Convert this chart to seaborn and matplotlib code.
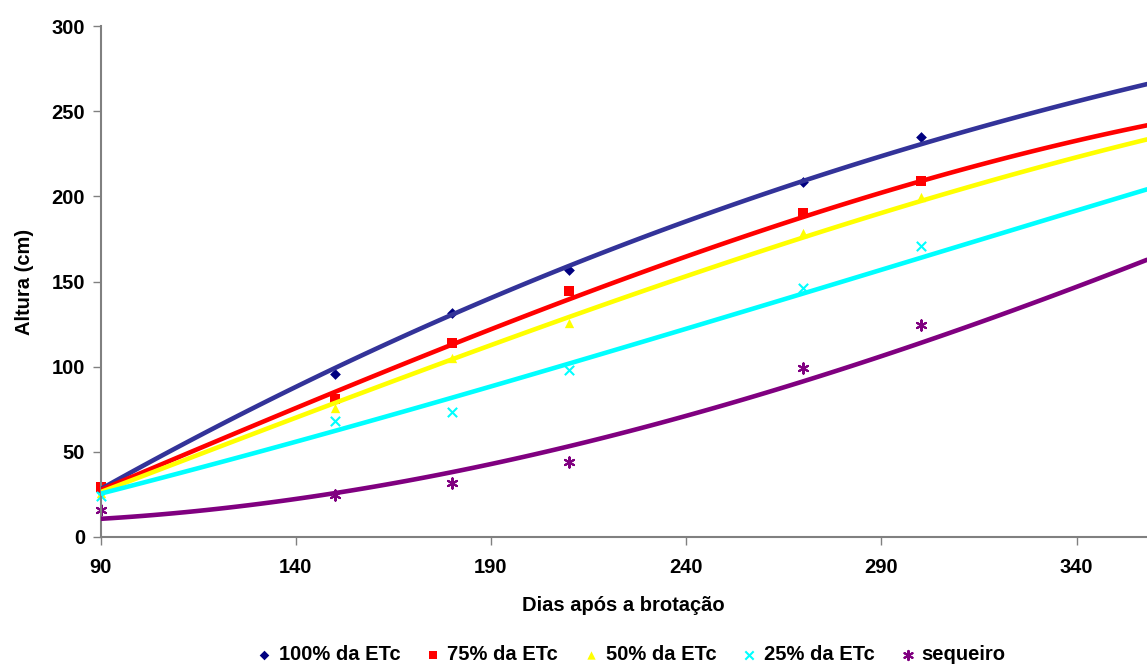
import numpy as np
import pandas as pd
import matplotlib
matplotlib.use("Agg")
import matplotlib.pyplot as plt
import seaborn as sns

# observed data (markers)
dias = [90, 150, 180, 210, 270, 300]
etc100 = [27, 95.7, 131.5, 157, 208.6, 234.7]
etc75 = [29.5, 81, 114, 144.6, 190, 209]
etc50 = [26, 76, 105, 125.6, 178.7, 199.5]
etc25 = [24, 68.3, 73.6, 98, 146, 170.9]
sequeiro = [15.9, 24.7, 31.9, 43.9, 99, 124.5]

# fitted curves
curva_x = [90, 150, 181, 218, 254, 271, 315, 358]
curva100 = [28, 99, 132, 166.5, 197, 208, 242, 265.4]
curva75 = [28, 83, 115, 148, 175.4, 188, 218, 242]
curva50 = [26.5, 78, 105, 137, 163.6, 176, 207.3, 233.5]
curva25 = [25.5, 62, 82.4, 108, 131.7, 143, 174.8, 204]
curva_seq_x = [90, 150, 181, 218, 254, 272, 332, 358]
curva_seq = [10.6, 26, 38.4, 58, 79, 94, 140, 162.7]

series_names = ["100% da ETc", "75% da ETc", "50% da ETc", "25% da ETc", "sequeiro"]
series_vals = [etc100, etc75, etc50, etc25, sequeiro]
curve_xs = [curva_x, curva_x, curva_x, curva_x, curva_seq_x]
curve_vals = [curva100, curva75, curva50, curva25, curva_seq]
marker_colors = ["#000080", "#FF0000", "#FFFF00", "#00FFFF", "#800080"]
line_colors = ["#333399", "#FF0000", "#FFFF00", "#00FFFF", "#800080"]
markers = ["D", "s", "^", "x", (6, 2, 0)]
msizes = [30, 45, 45, 45, 55]

x_ticks = [90, 140, 190, 240, 290, 340]
y_ticks = [0, 50, 100, 150, 200, 250, 300]
XLIM = (90, 358)

sns.set_theme(style="white")
plt.rcParams['font.family'] = ['Liberation Sans', 'DejaVu Sans']
plt.rcParams['font.weight'] = 'bold'
plt.rcParams['text.color'] = 'black'
plt.rcParams['axes.labelcolor'] = 'black'
plt.rcParams['xtick.labelcolor'] = 'black'
plt.rcParams['ytick.labelcolor'] = 'black'

fig = plt.figure(figsize=(11.47, 6.66), dpi=100)
ax = fig.add_axes([100.5 / 1147, (666 - 537) / 666, 1 - 100.5 / 1147, (537 - 26) / 666])
ax.set_xlim(*XLIM)
ax.set_ylim(0, 300)

handles = []
for name, vals, cx, cv, mc, lc, mk, ms in zip(series_names, series_vals, curve_xs, curve_vals,
                                              marker_colors, line_colors, markers, msizes):
    df = pd.DataFrame({"dias": dias, "altura": vals})
    lw = 1.5 if mk in ("x", (6, 2, 0)) else 0
    sns.scatterplot(data=df, x="dias", y="altura", ax=ax, color=mc, marker=mk, s=ms,
                    linewidth=lw, edgecolor=mc if lw else None, zorder=2, clip_on=False)
    ax.set_xlim(*XLIM)
    dfc = pd.DataFrame({"dias": cx, "altura": cv})
    sns.regplot(data=dfc, x="dias", y="altura", ax=ax, order=3, ci=None, scatter=False,
                truncate=False, color=lc, line_kws={"linewidth": 3.3, "zorder": 3})
    ax.set_xlim(*XLIM)
    h = ax.scatter([], [], color=mc, marker=mk, s=ms * 0.8, linewidths=lw)
    handles.append(h)

ax.set_xlim(*XLIM)
ax.set_ylim(0, 300)
ax.set_xticks(x_ticks)
ax.set_yticks(y_ticks)
ax.tick_params(axis="both", which="major", labelsize=14.5, length=6, width=1,
               color="#808080", labelcolor="black", direction="out", bottom=True, left=True)
ax.tick_params(axis="x", pad=9)
ax.tick_params(axis="y", pad=5)
for lab in ax.get_xticklabels() + ax.get_yticklabels():
    lab.set_fontweight("bold")
for s in ["top", "right"]:
    ax.spines[s].set_visible(False)
for s in ["left", "bottom"]:
    ax.spines[s].set_color("#808080")
    ax.spines[s].set_linewidth(1.5)

ax.set_xlabel("Dias após a brotação", fontsize=14.5, fontweight="bold", labelpad=14, color="black")
ax.set_ylabel("Altura (cm)", fontsize=14.5, fontweight="bold", labelpad=13, color="black")

fig.legend(handles, series_names, loc="center", bbox_to_anchor=(631 / 1147, 1 - 655 / 666),
           ncol=5, frameon=False, handlelength=0.8, handletextpad=0.3, columnspacing=1.25,
           prop={"weight": "bold", "size": 14.5}, markerscale=1.0, labelcolor="black")

fig.savefig("out.png", dpi=100)
